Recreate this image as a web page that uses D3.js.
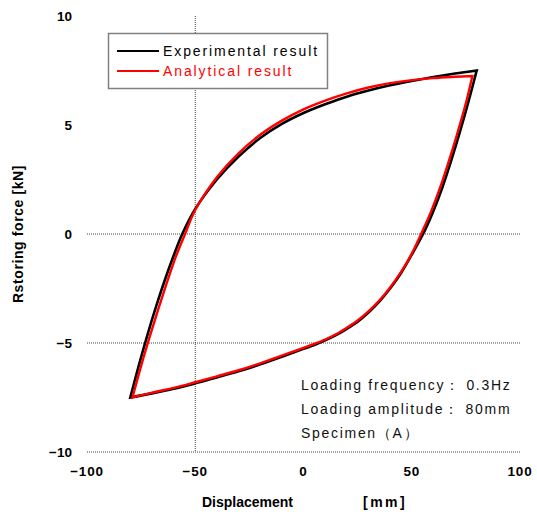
<!DOCTYPE html>
<html>
<head>
<meta charset="utf-8">
<script src="https://cdn.jsdelivr.net/npm/d3@7"></script>
<style>
  body { margin: 0; background: #fff; }
  svg { display: block; }
</style>
</head>
<body>
<svg id="chart" width="537" height="512"></svg>
<script>
// experimental loop: upper (loading) branch and lower (unloading) branch
const expUpper = [
  [-80, -7.5], [-76, -6.0], [-72, -4.6], [-68, -3.3], [-64, -2.1], [-60, -1.0],
  [-56, 0], [-50, 1.15], [-40, 2.5], [-30, 3.55], [-20, 4.4], [-10, 5.05], [0, 5.55],
  [10, 5.95], [20, 6.3], [30, 6.58], [40, 6.82], [50, 7.02], [60, 7.2], [70, 7.36], [80, 7.5]
];
const expLower = [
  [80, 7.5], [76, 6.0], [72, 4.6], [68, 3.3], [64, 2.1], [60, 1.05], [56, 0.15],
  [50, -0.95], [45, -1.8], [40, -2.5], [35, -3.1], [30, -3.6], [25, -4.02], [20, -4.35],
  [15, -4.64], [10, -4.88], [5, -5.09], [0, -5.27], [-10, -5.63], [-20, -5.98],
  [-30, -6.3], [-40, -6.58], [-50, -6.85], [-60, -7.1], [-70, -7.31], [-80, -7.5]
];
// analytical loop
const anaUpper = [
  [-79, -7.5], [-75, -6.05], [-71, -4.7], [-67, -3.42], [-63, -2.2], [-59, -1.05],
  [-54.7, 0], [-50, 1.1], [-40, 2.6], [-30, 3.7], [-20, 4.55], [-10, 5.2], [0, 5.72],
  [10, 6.12], [20, 6.45], [30, 6.72], [40, 6.92], [50, 7.06], [60, 7.15], [70, 7.21], [78, 7.25]
];
const anaLower = [
  [78, 7.25], [75, 6.0], [71, 4.6], [67, 3.3], [63, 2.1], [59, 1.05], [55, 0.15],
  [50, -0.9], [45, -1.75], [40, -2.45], [35, -3.05], [30, -3.55], [25, -3.97], [20, -4.3],
  [15, -4.6], [10, -4.84], [5, -5.04], [0, -5.22], [-10, -5.58], [-20, -5.93],
  [-30, -6.25], [-40, -6.53], [-50, -6.8], [-60, -7.06], [-70, -7.28], [-79, -7.5]
];

const xTicks = [-100, -50, 0, 50, 100];
const yTicks = [10, 5, 0, -5, -10];
const hGrid = [0, -5, -10];
const vGrid = [-50];
const legendItems = [
  { name: "Experimental result", color: "#000" },
  { name: "Analytical result", color: "#ff0000" }
];
const notes = ["Loading frequency： 0.3Hz", "Loading amplitude： 80mm", "Specimen（A）"];

const svg = d3.select("#chart");
const x = d3.scaleLinear().domain([-100, 100]).range([87, 520]);
const y = d3.scaleLinear().domain([-10, 10]).range([452, 16]);

const fmt = d => d < 0 ? "−" + Math.abs(d) : String(d);

// grid lines
svg.append("g").selectAll("line")
  .data(hGrid).join("line")
  .attr("x1", x(-100)).attr("x2", x(100))
  .attr("y1", d => y(d)).attr("y2", d => y(d))
  .attr("stroke", "#444").attr("stroke-width", 1)
  .attr("stroke-dasharray", "1,1");

svg.append("g").selectAll("line")
  .data(vGrid).join("line")
  .attr("x1", d => x(d)).attr("x2", d => x(d))
  .attr("y1", y(10)).attr("y2", y(-10))
  .attr("stroke", "#444").attr("stroke-width", 1)
  .attr("stroke-dasharray", "1,1");

// tick labels
svg.append("g").selectAll("text")
  .data(yTicks).join("text")
  .attr("x", 72).attr("y", d => y(d))
  .attr("dy", "0.35em")
  .attr("text-anchor", "end")
  .attr("font-family", "Liberation Sans, Arial, sans-serif")
  .attr("font-weight", "bold").attr("font-size", 13.5)
  .text(fmt);

svg.append("g").selectAll("text")
  .data(xTicks).join("text")
  .attr("x", d => x(d)).attr("y", 471)
  .attr("dy", "0.35em")
  .attr("text-anchor", "middle")
  .attr("font-family", "Liberation Sans, Arial, sans-serif")
  .attr("font-weight", "bold").attr("font-size", 13.5)
  .attr("letter-spacing", 0.8)
  .text(fmt);

// axis titles
svg.append("text")
  .attr("x", 202).attr("y", 507)
  .attr("font-family", "Liberation Sans, Arial, sans-serif")
  .attr("font-weight", "bold").attr("font-size", 14)
  .text("Displacement");
svg.append("text")
  .attr("x", 363).attr("y", 507)
  .attr("font-family", "Liberation Sans, Arial, sans-serif")
  .attr("font-weight", "bold").attr("font-size", 14)
  .attr("letter-spacing", 2.5)
  .text("[mm]");

svg.append("text")
  .attr("transform", "translate(23,234) rotate(-90)")
  .attr("text-anchor", "middle")
  .attr("font-family", "Liberation Sans, Arial, sans-serif")
  .attr("font-weight", "bold").attr("font-size", 14)
  .attr("letter-spacing", 0.6)
  .text("Rstoring force  [kN]");

// loops
const line = d3.line()
  .x(d => x(d[0])).y(d => y(d[1]))
  .curve(d3.curveCatmullRom.alpha(0.5));

const loopPath = (up, low) => line(up) + line(low).replace(/^M/, "L") + "Z";

svg.append("path")
  .attr("d", loopPath(expUpper, expLower))
  .attr("fill", "none").attr("stroke", "#000")
  .attr("stroke-width", 2.6).attr("stroke-linejoin", "miter");

svg.append("path")
  .attr("d", loopPath(anaUpper, anaLower))
  .attr("fill", "none").attr("stroke", "#ff0000")
  .attr("stroke-width", 2.4).attr("stroke-linejoin", "miter");

// legend
const legend = svg.append("g");
legend.append("rect")
  .attr("x", 108.5).attr("y", 33.5).attr("width", 219).attr("height", 55)
  .attr("fill", "#fff").attr("stroke", "#808080").attr("stroke-width", 1.5);

const li = legend.selectAll("g.item")
  .data(legendItems).join("g")
  .attr("class", "item")
  .attr("transform", (d, i) => `translate(0,${51 + i * 20})`);
li.append("line")
  .attr("x1", 117).attr("x2", 159)
  .attr("stroke", d => d.color).attr("stroke-width", 2);
li.append("text")
  .attr("x", 163).attr("dy", "0.35em")
  .attr("font-family", "Liberation Sans, Arial, sans-serif")
  .attr("font-size", 14).attr("letter-spacing", 1.9)
  .attr("fill", d => d.color)
  .text(d => d.name);

// notes
svg.append("g").selectAll("text")
  .data(notes).join("text")
  .attr("x", 301).attr("y", (d, i) => 390 + i * 24)
  .attr("font-family", "Liberation Sans, Arial, sans-serif")
  .attr("font-size", 14).attr("letter-spacing", 1.7)
  .attr("fill", "#111")
  .text(d => d);
</script>
</body>
</html>
